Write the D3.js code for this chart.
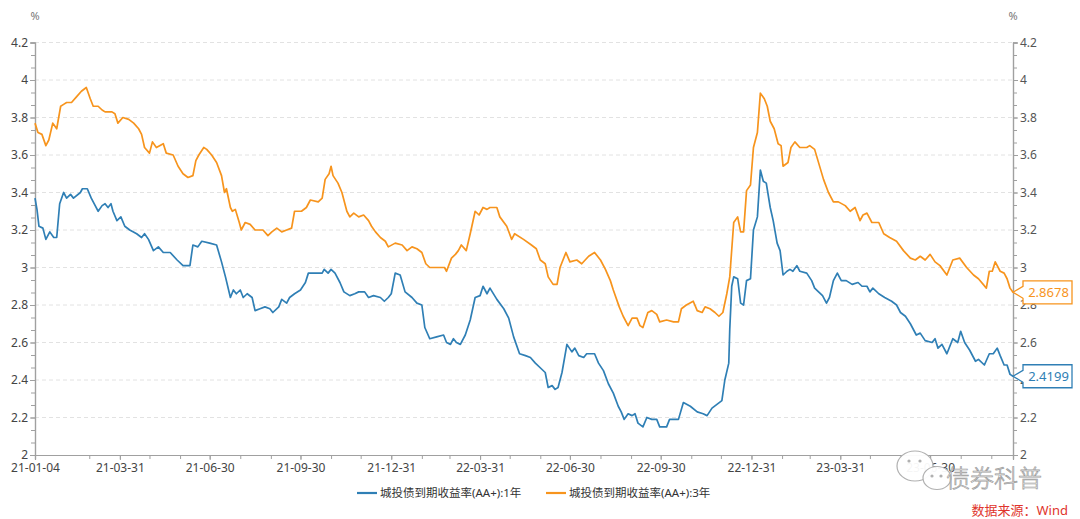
<!DOCTYPE html>
<html><head><meta charset="utf-8">
<script src="https://cdn.jsdelivr.net/npm/d3@7"></script>
<style>body{margin:0;background:#fff}svg{display:block}</style>
</head><body>
<svg id="c" width="1080" height="519"></svg>
<script>
const dates1Y = ["21-01-04","21-01-06","21-01-08","21-01-12","21-01-15","21-01-19","21-01-23","21-01-26","21-01-29","21-02-02","21-02-05","21-02-09","21-02-12","21-02-19","21-02-21","21-02-26","21-03-02","21-03-06","21-03-09","21-03-13","21-03-16","21-03-19","21-03-22","21-03-24","21-03-28","21-04-01","21-04-05","21-04-10","21-04-17","21-04-22","21-04-25","21-04-29","21-05-04","21-05-09","21-05-14","21-05-21","21-05-28","21-06-03","21-06-10","21-06-13","21-06-18","21-06-22","21-06-30","21-07-07","21-07-12","21-07-16","21-07-21","21-07-24","21-07-27","21-07-31","21-08-03","21-08-07","21-08-12","21-08-15","21-08-20","21-08-25","21-08-30","21-09-02","21-09-08","21-09-11","21-09-16","21-09-19","21-09-24","21-09-30","21-10-05","21-10-08","21-10-15","21-10-22","21-10-24","21-10-28","21-10-31","21-11-04","21-11-09","21-11-13","21-11-19","21-11-24","21-11-28","21-12-04","21-12-08","21-12-13","21-12-20","21-12-24","21-12-28","21-12-31","22-01-04","22-01-09","22-01-14","22-01-21","22-01-26","22-01-31","22-02-03","22-02-08","22-02-15","22-02-22","22-02-25","22-03-01","22-03-04","22-03-07","22-03-11","22-03-16","22-03-21","22-03-26","22-03-31","22-04-03","22-04-05","22-04-07","22-04-10","22-04-17","22-04-24","22-04-29","22-05-04","22-05-10","22-05-16","22-05-21","22-05-26","22-06-01","22-06-05","22-06-08","22-06-12","22-06-15","22-06-18","22-06-22","22-06-27","22-07-02","22-07-05","22-07-09","22-07-14","22-07-17","22-07-22","22-07-25","22-07-29","22-08-03","22-08-08","22-08-13","22-08-18","22-08-21","22-08-24","22-08-28","22-09-01","22-09-04","22-09-07","22-09-12","22-09-16","22-09-21","22-09-26","22-09-29","22-10-06","22-10-09","22-10-18","22-10-23","22-10-30","22-11-06","22-11-12","22-11-16","22-11-21","22-11-26","22-12-01","22-12-04","22-12-08","22-12-09","22-12-11","22-12-13","22-12-17","22-12-20","22-12-23","22-12-26","22-12-30","23-01-02","23-01-06","23-01-09","23-01-12","23-01-15","23-01-19","23-01-22","23-01-26","23-01-29","23-02-01","23-02-05","23-02-08","23-02-11","23-02-15","23-02-18","23-02-25","23-03-02","23-03-05","23-03-09","23-03-13","23-03-17","23-03-20","23-03-24","23-03-28","23-04-01","23-04-06","23-04-12","23-04-18","23-04-22","23-04-27","23-04-30","23-05-03","23-05-09","23-05-15","23-05-22","23-05-27","23-05-31","23-06-05","23-06-10","23-06-16","23-06-20","23-06-25","23-07-02","23-07-05","23-07-08","23-07-12","23-07-17","23-07-23","23-07-28","23-07-31","23-08-04","23-08-09","23-08-15","23-08-18","23-08-24","23-08-29","23-09-02","23-09-06","23-09-09","23-09-13","23-09-16","23-09-19","23-09-22"];
const yield1Y = [3.37,3.31,3.22,3.21,3.15,3.19,3.16,3.16,3.34,3.40,3.37,3.39,3.37,3.40,3.42,3.42,3.37,3.33,3.30,3.33,3.34,3.32,3.34,3.30,3.25,3.27,3.22,3.20,3.18,3.16,3.18,3.15,3.09,3.11,3.08,3.08,3.04,3.01,3.01,3.12,3.11,3.14,3.13,3.12,3.03,2.95,2.84,2.88,2.86,2.88,2.84,2.86,2.84,2.77,2.78,2.79,2.78,2.76,2.79,2.83,2.81,2.84,2.86,2.88,2.92,2.97,2.97,2.97,2.99,2.97,2.99,2.97,2.92,2.87,2.85,2.86,2.87,2.87,2.84,2.85,2.84,2.82,2.84,2.86,2.97,2.96,2.87,2.84,2.81,2.80,2.68,2.62,2.63,2.64,2.60,2.59,2.62,2.60,2.59,2.64,2.72,2.84,2.85,2.90,2.88,2.86,2.89,2.83,2.78,2.73,2.63,2.54,2.53,2.52,2.49,2.46,2.44,2.36,2.37,2.35,2.36,2.44,2.59,2.55,2.57,2.53,2.52,2.54,2.54,2.54,2.49,2.45,2.38,2.33,2.26,2.23,2.19,2.22,2.21,2.22,2.17,2.15,2.20,2.19,2.19,2.15,2.15,2.19,2.19,2.28,2.26,2.23,2.22,2.21,2.25,2.27,2.29,2.40,2.49,2.67,2.90,2.95,2.94,2.81,2.80,2.93,2.94,3.20,3.27,3.52,3.46,3.45,3.32,3.25,3.13,3.09,2.96,2.98,2.99,2.98,3.01,2.98,2.97,2.93,2.89,2.87,2.85,2.81,2.84,2.93,2.97,2.93,2.93,2.91,2.92,2.90,2.90,2.87,2.89,2.86,2.84,2.82,2.80,2.76,2.74,2.70,2.64,2.65,2.61,2.60,2.62,2.57,2.59,2.54,2.62,2.60,2.66,2.60,2.56,2.50,2.51,2.48,2.54,2.54,2.57,2.53,2.48,2.48,2.43,2.4199];
const dates3Y = ["21-01-04","21-01-07","21-01-11","21-01-15","21-01-18","21-01-22","21-01-26","21-01-30","21-02-02","21-02-05","21-02-10","21-02-15","21-02-20","21-02-25","21-03-01","21-03-04","21-03-09","21-03-13","21-03-16","21-03-23","21-03-26","21-03-29","21-04-03","21-04-09","21-04-14","21-04-19","21-04-22","21-04-25","21-04-30","21-05-03","21-05-07","21-05-14","21-05-17","21-05-24","21-05-29","21-06-03","21-06-08","21-06-13","21-06-16","21-06-19","21-06-24","21-06-27","21-07-02","21-07-07","21-07-12","21-07-15","21-07-17","21-07-21","21-07-23","21-07-26","21-07-30","21-08-01","21-08-05","21-08-10","21-08-15","21-08-20","21-08-23","21-08-28","21-09-01","21-09-06","21-09-11","21-09-16","21-09-21","21-09-24","21-10-01","21-10-06","21-10-10","21-10-18","21-10-22","21-10-25","21-10-29","21-10-31","21-11-02","21-11-07","21-11-11","21-11-16","21-11-19","21-11-23","21-11-28","21-12-03","21-12-08","21-12-11","21-12-15","21-12-20","21-12-25","21-12-28","22-01-04","22-01-11","22-01-16","22-01-21","22-01-26","22-01-31","22-02-04","22-02-08","22-02-15","22-02-23","22-02-25","22-03-02","22-03-06","22-03-09","22-03-12","22-03-17","22-03-21","22-03-26","22-03-30","22-04-03","22-04-07","22-04-10","22-04-15","22-04-17","22-04-20","22-04-27","22-05-02","22-05-05","22-05-14","22-05-22","22-05-27","22-05-31","22-06-05","22-06-08","22-06-13","22-06-17","22-06-20","22-06-26","22-06-30","22-07-07","22-07-12","22-07-19","22-07-25","22-07-31","22-08-05","22-08-10","22-08-13","22-08-19","22-08-23","22-08-28","22-09-01","22-09-06","22-09-09","22-09-12","22-09-17","22-09-21","22-09-26","22-09-29","22-10-06","22-10-13","22-10-18","22-10-21","22-10-26","22-11-02","22-11-06","22-11-11","22-11-14","22-11-19","22-11-24","22-11-28","22-12-02","22-12-06","22-12-09","22-12-13","22-12-17","22-12-20","22-12-23","22-12-26","22-12-30","23-01-02","23-01-06","23-01-09","23-01-13","23-01-16","23-01-19","23-01-23","23-01-27","23-01-30","23-02-01","23-02-06","23-02-09","23-02-13","23-02-18","23-02-25","23-02-28","23-03-05","23-03-14","23-03-19","23-03-24","23-03-29","23-04-05","23-04-10","23-04-15","23-04-20","23-04-23","23-04-27","23-05-02","23-05-09","23-05-14","23-05-20","23-05-27","23-06-03","23-06-10","23-06-15","23-06-20","23-06-25","23-06-30","23-07-05","23-07-10","23-07-17","23-07-23","23-07-30","23-08-06","23-08-13","23-08-18","23-08-26","23-08-29","23-09-01","23-09-04","23-09-09","23-09-13","23-09-16","23-09-19","23-09-22"];
const yield3Y = [3.77,3.72,3.71,3.65,3.68,3.77,3.74,3.86,3.87,3.88,3.88,3.91,3.94,3.96,3.90,3.86,3.86,3.84,3.83,3.83,3.82,3.77,3.80,3.79,3.77,3.74,3.71,3.64,3.61,3.67,3.64,3.66,3.61,3.60,3.54,3.50,3.48,3.49,3.57,3.60,3.64,3.63,3.60,3.56,3.49,3.40,3.42,3.32,3.30,3.31,3.24,3.20,3.24,3.23,3.20,3.20,3.20,3.17,3.19,3.21,3.19,3.20,3.21,3.30,3.30,3.32,3.36,3.35,3.37,3.47,3.50,3.54,3.49,3.45,3.40,3.30,3.27,3.29,3.27,3.28,3.25,3.22,3.19,3.16,3.14,3.11,3.13,3.12,3.09,3.11,3.10,3.08,3.02,3.00,3.00,3.00,2.98,3.05,3.07,3.09,3.12,3.09,3.18,3.30,3.28,3.32,3.31,3.32,3.32,3.32,3.27,3.22,3.15,3.18,3.15,3.12,3.10,3.04,3.02,2.95,2.91,2.91,3.00,3.08,3.03,3.04,3.02,3.06,3.08,3.04,2.99,2.93,2.88,2.79,2.74,2.69,2.73,2.73,2.69,2.68,2.76,2.77,2.75,2.71,2.72,2.71,2.71,2.78,2.80,2.82,2.77,2.76,2.79,2.78,2.76,2.74,2.76,2.86,2.95,3.24,3.27,3.19,3.19,3.41,3.44,3.64,3.72,3.93,3.90,3.86,3.78,3.74,3.66,3.65,3.54,3.56,3.64,3.67,3.64,3.64,3.65,3.63,3.47,3.40,3.35,3.35,3.33,3.30,3.32,3.25,3.28,3.29,3.24,3.24,3.18,3.16,3.14,3.09,3.05,3.04,3.06,3.04,3.07,3.03,3.01,2.96,3.04,3.05,3.00,2.96,2.94,2.89,2.98,2.98,3.03,2.98,2.97,2.94,2.89,2.8678];
const seriesNames = ["城投债到期收益率(AA+):1年", "城投债到期收益率(AA+):3年"];
const seriesColors = ["#2f7fb5", "#f7941d"];
const lastLabels = ["2.4199", "2.8678"];
const yTicks = [2, 2.2, 2.4, 2.6, 2.8, 3, 3.2, 3.4, 3.6, 3.8, 4, 4.2];
const xTickLabels = ["21-01-04","21-03-31","21-06-30","21-09-30","21-12-31","22-03-31","22-06-30","22-09-30","22-12-31","23-03-31","23-06-30"];
const unitLabel = "%";
const sourceText = "数据来源：Wind";
const watermarkText = "债券科普";

const svg = d3.select("#c");
const L = 35, R = 1013, T = 42.5, B = 455;
const parse = d3.timeParse("%y-%m-%d");
const fmt = d3.timeFormat("%y-%m-%d");
const font = "'Noto Sans','Noto Sans CJK SC',sans-serif";
const x = d3.scaleTime().domain([parse(dates1Y[0]), parse(dates1Y[dates1Y.length - 1])]).range([L, R]);
const y = d3.scaleLinear().domain([2, 4.2]).range([B, T]);

// grid
svg.append("g").selectAll("line").data(yTicks.filter(d => d > 2)).join("line")
  .attr("x1", L).attr("x2", R).attr("y1", d => y(d)).attr("y2", d => y(d))
  .attr("stroke", "#e2e2e2").attr("stroke-dasharray", "4,3");

function styleAxis(g, color) {
  g.select(".domain").attr("stroke", "#a0a0a0").attr("stroke-width", 1.2);
  g.selectAll(".tick line").attr("stroke", "#a0a0a0");
  g.selectAll(".tick text").attr("fill", color).style("font-family", font).style("font-size", "12px");
}
const minorY = d3.range(0, 34).map(i => 2 + i * 0.2 / 3);
svg.append("g").attr("transform", `translate(${L},0)`)
  .call(d3.axisLeft(y).tickValues(minorY).tickSize(4).tickFormat("")).call(g => styleAxis(g, "#444"));
svg.append("g").attr("transform", `translate(${L},0)`)
  .call(d3.axisLeft(y).tickValues(yTicks).tickSize(5).tickPadding(2).tickFormat(d => String(+d.toFixed(1))))
  .call(g => styleAxis(g, "#444"));
svg.append("g").attr("transform", `translate(${R},0)`)
  .call(d3.axisRight(y).tickValues(minorY).tickSize(4).tickFormat("")).call(g => styleAxis(g, "#555"));
svg.append("g").attr("transform", `translate(${R},0)`)
  .call(d3.axisRight(y).tickValues(yTicks).tickSize(5).tickPadding(2).tickFormat(d => String(+d.toFixed(1))))
  .call(g => styleAxis(g, "#555"));
const monthEnds = d3.timeMonth.range(d3.timeMonth.offset(x.domain()[0], 1), x.domain()[1])
  .map(d => d3.timeDay.offset(d, -1)).filter(d => d > x.domain()[0]);
svg.append("g").attr("transform", `translate(0,${B})`)
  .call(d3.axisBottom(x).tickValues(monthEnds).tickSize(4).tickFormat("")).call(g => styleAxis(g, "#444"));
svg.append("g").attr("transform", `translate(0,${B})`)
  .call(d3.axisBottom(x).tickValues(xTickLabels.map(parse)).tickSize(5).tickPadding(3).tickFormat(fmt))
  .call(g => styleAxis(g, "#444"));

[L, R].forEach(px => svg.append("text").attr("x", px).attr("y", 20).attr("text-anchor", "middle")
  .attr("fill", "#777").style("font-family", font).style("font-size", "11px").text(unitLabel));

const series = [
  {d: dates1Y, v: yield1Y},
  {d: dates3Y, v: yield3Y}
];
const line = d3.line().x(p => x(p[0])).y(p => y(p[1]));
series.forEach((s, i) => {
  const pts = s.d.map((d, j) => [parse(d), s.v[j]]);
  svg.append("path").datum(pts).attr("d", line).attr("fill", "none")
    .attr("stroke", seriesColors[i]).attr("stroke-width", 1.7).attr("stroke-linejoin", "round");
});

series.forEach((s, i) => {
  const px = x(parse(s.d[s.d.length - 1])), py = y(s.v[s.v.length - 1]);
  const bx = px + 10, bw = 49, bh = 23, by = py - bh / 2;
  const p = `M${px},${py} L${bx},${py - 6} L${bx},${by} L${bx + bw},${by} L${bx + bw},${by + bh} L${bx},${by + bh} L${bx},${py + 6} Z`;
  svg.append("path").attr("d", p).attr("fill", "#fff").attr("stroke", seriesColors[i]).attr("stroke-width", 1.3);
  svg.append("text").attr("x", bx + bw / 2 + 1).attr("y", py + 5).attr("text-anchor", "middle")
    .attr("fill", seriesColors[i]).style("font-family", font).style("font-size", "13px").text(lastLabels[i]);
});

const legX = [357, 546];
seriesNames.forEach((n, i) => {
  svg.append("line").attr("x1", legX[i]).attr("x2", legX[i] + 20).attr("y1", 493).attr("y2", 493)
    .attr("stroke", seriesColors[i]).attr("stroke-width", 2.2);
  svg.append("text").attr("x", legX[i] + 23).attr("y", 497).attr("fill", "#333")
    .style("font-family", font).style("font-size", "11.5px").text(n);
});

svg.append("text").attr("x", 1068).attr("y", 515).attr("text-anchor", "end").attr("fill", "#e0342c")
  .style("font-family", font).style("font-size", "13px").text(sourceText);

// watermark
const wm = svg.append("g");
wm.append("ellipse").attr("cx", 915).attr("cy", 466).attr("rx", 18).attr("ry", 15)
  .attr("fill", "#fff").attr("fill-opacity", 0.95).attr("stroke", "#b0b0b0").attr("stroke-width", 1.2);
wm.append("ellipse").attr("cx", 937).attr("cy", 478).attr("rx", 14).attr("ry", 11.5)
  .attr("fill", "#fff").attr("fill-opacity", 0.95).attr("stroke", "#b0b0b0").attr("stroke-width", 1.2);
[[909, 461], [920, 461], [932, 476], [941, 476]].forEach(c => wm.append("circle").attr("cx", c[0]).attr("cy", c[1]).attr("r", 1.6).attr("fill", "#b0b0b0"));
wm.append("text").attr("x", 946).attr("y", 487).attr("fill", "#fff").attr("fill-opacity", 0.8)
  .attr("stroke", "#9a9a9a").attr("stroke-width", 0.7)
  .style("font-family", "'Noto Sans CJK SC',sans-serif").style("font-size", "24px").style("font-weight", 300)
  .text(watermarkText);
</script>
</body></html>
